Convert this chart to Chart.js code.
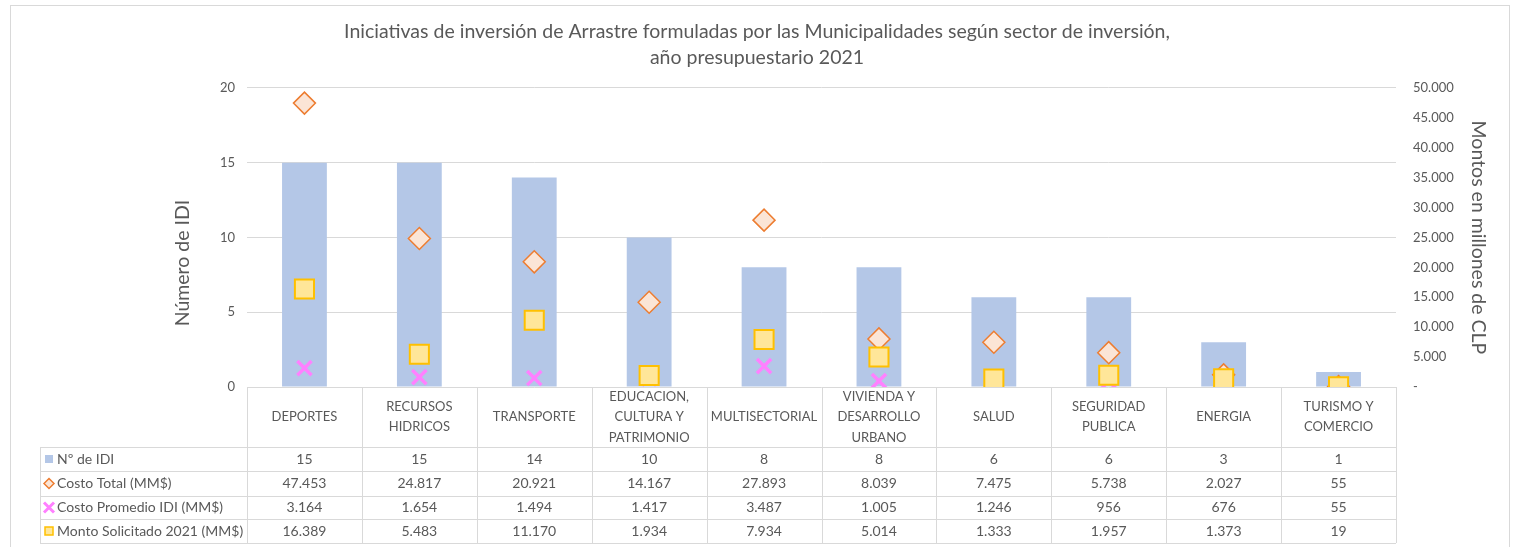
<!DOCTYPE html>
<html><head><meta charset="utf-8">
<script src="https://cdn.jsdelivr.net/npm/chart.js@4"></script>
<style>html,body{margin:0;padding:0;background:#fff}#wrap{width:1514px;height:547px;position:relative}</style>
</head><body><div id="wrap"><canvas id="c"></canvas></div>
<script>
const categories = [["DEPORTES"],["RECURSOS","HIDRICOS"],["TRANSPORTE"],["EDUCACION,","CULTURA Y","PATRIMONIO"],["MULTISECTORIAL"],["VIVIENDA Y","DESARROLLO","URBANO"],["SALUD"],["SEGURIDAD","PUBLICA"],["ENERGIA"],["TURISMO Y","COMERCIO"]];
const numeroIDI = [15,15,14,10,8,8,6,6,3,1];
const costoTotal = [47453,24817,20921,14167,27893,8039,7475,5738,2027,55];
const costoPromedio = [3164,1654,1494,1417,3487,1005,1246,956,676,55];
const montoSolicitado = [16389,5483,11170,1934,7934,5014,1333,1957,1373,19];
const seriesNames = ["Nº de IDI","Costo Total (MM$)","Costo Promedio IDI (MM$)","Monto Solicitado 2021 (MM$)"];
const titleLines = ["Iniciativas de inversión de Arrastre formuladas por las Municipalidades según sector de inversión,","año presupuestario 2021"];
const leftAxisTitle = "Número de IDI";
const rightAxisTitle = "Montos en millones de CLP";

const FONT = "Lato, 'Liberation Sans', sans-serif";
const TXT = '#595959';
const GRID = '#D9D9D9';
const fmt = n => n === 0 ? '-' : String(n).replace(/\B(?=(\d{3})+(?!\d))/g, '.');

const C_BAR = '#B4C7E7', C_DIA_B = '#ED7D31', C_DIA_F = '#FBE5D6', C_X = '#FF80FF', C_SQ_B = '#FFC000', C_SQ_F = '#FFE699';

const framePlugin = {
  id: 'frame',
  beforeDraw(chart) {
    const ctx = chart.ctx;
    ctx.save();
    ctx.fillStyle = '#fff';
    ctx.fillRect(0, 0, chart.width, chart.height);
    ctx.strokeStyle = GRID;
    ctx.lineWidth = 1;
    ctx.strokeRect(10.5, 5.5, 1499, 600);
    ctx.restore();
  }
};

const tablePlugin = {
  id: 'table',
  afterDraw(chart) {
    const ctx = chart.ctx, xs = chart.scales.x, a = chart.chartArea;
    const n = categories.length;
    const colW = (a.right - a.left) / n;
    const top = a.bottom, headBot = top + 60;
    const rowYs = [headBot, headBot + 24, headBot + 49, headBot + 72, headBot + 96];
    const tableLeft = 40;
    ctx.save();
    // left axis title
    ctx.fillStyle = TXT;
    ctx.font = "19.5px " + FONT;
    ctx.textAlign = 'center';
    ctx.textBaseline = 'middle';
    ctx.save();
    ctx.translate(183, 263);
    ctx.rotate(-Math.PI / 2);
    ctx.fillText(leftAxisTitle, 0, 0);
    ctx.restore();

    ctx.strokeStyle = GRID;
    ctx.lineWidth = 1;
    ctx.beginPath();
    rowYs.forEach(y => { ctx.moveTo(tableLeft, Math.round(y) + 0.5); ctx.lineTo(a.right, Math.round(y) + 0.5); });
    for (let i = 0; i <= n; i++) {
      const x = Math.round(a.left + i * colW) + 0.5;
      ctx.moveTo(x, top); ctx.lineTo(x, rowYs[4]);
    }
    ctx.moveTo(tableLeft + 0.5, headBot); ctx.lineTo(tableLeft + 0.5, rowYs[4]);
    ctx.stroke();

    ctx.fillStyle = TXT;
    ctx.font = "13px " + FONT;
    categories.forEach((lines, i) => {
      const cx = xs.getPixelForValue(i);
      const cy = (top + headBot) / 2;
      const lh = 20.5;
      lines.forEach((t, k) => {
        ctx.fillText(t, cx, cy + (k - (lines.length - 1) / 2) * lh);
      });
    });
    ctx.font = "14px " + FONT;
    const data = [numeroIDI, costoTotal, costoPromedio, montoSolicitado];
    data.forEach((arr, r) => {
      const cy = (rowYs[r] + rowYs[r + 1]) / 2;
      arr.forEach((v, i) => {
        ctx.fillText(fmt(v), xs.getPixelForValue(i), cy);
      });
    });
    ctx.textAlign = 'left';
    seriesNames.forEach((name, r) => {
      const cy = (rowYs[r] + rowYs[r + 1]) / 2;
      const ix = 49;
      if (r === 0) {
        ctx.fillStyle = C_BAR; ctx.fillRect(ix - 4, cy - 4, 8, 8);
      } else if (r === 1) {
        ctx.beginPath();
        ctx.moveTo(ix - 5, cy); ctx.lineTo(ix, cy - 5); ctx.lineTo(ix + 5, cy); ctx.lineTo(ix, cy + 5); ctx.closePath();
        ctx.fillStyle = C_DIA_F; ctx.fill(); ctx.strokeStyle = C_DIA_B; ctx.lineWidth = 1.5; ctx.stroke();
      } else if (r === 2) {
        ctx.beginPath();
        ctx.moveTo(ix - 5, cy - 5); ctx.lineTo(ix + 5, cy + 5);
        ctx.moveTo(ix + 5, cy - 5); ctx.lineTo(ix - 5, cy + 5);
        ctx.strokeStyle = C_X; ctx.lineWidth = 3; ctx.stroke();
      } else {
        ctx.fillStyle = C_SQ_F; ctx.fillRect(ix - 4, cy - 4, 8, 8);
        ctx.strokeStyle = C_SQ_B; ctx.lineWidth = 1.5; ctx.strokeRect(ix - 4, cy - 4, 8, 8);
      }
      ctx.fillStyle = TXT;
      ctx.fillText(name, 57, cy);
    });
    ctx.restore();
  }
};

new Chart(document.getElementById('c'), {
  data: {
    labels: categories.map(c => c.join(' ')),
    datasets: [
      { type: 'line', label: seriesNames[3], data: montoSolicitado, yAxisID: 'y1', showLine: false,
        pointStyle: 'rect', pointRadius: 13.5, pointBackgroundColor: C_SQ_F, pointBorderColor: C_SQ_B, pointBorderWidth: 2, order: 1 },
      { type: 'line', label: seriesNames[2], data: costoPromedio, yAxisID: 'y1', showLine: false,
        pointStyle: 'crossRot', pointRadius: 10, pointBorderColor: C_X, pointBorderWidth: 3.5, order: 2 },
      { type: 'line', label: seriesNames[1], data: costoTotal, yAxisID: 'y1', showLine: false,
        pointStyle: 'rectRot', pointRadius: 11, pointBackgroundColor: C_DIA_F, pointBorderColor: C_DIA_B, pointBorderWidth: 1.5, order: 3 },
      { type: 'bar', label: seriesNames[0], data: numeroIDI, yAxisID: 'y', backgroundColor: C_BAR,
        barPercentage: 0.39, categoryPercentage: 1, order: 4 }
    ]
  },
  options: {
    responsive: true,
    maintainAspectRatio: false,
    animation: false,
    layout: { padding: { left: 0, right: 0, top: 0, bottom: 160 } },
    plugins: {
      legend: { display: false },
      tooltip: { enabled: false },
      title: {
        display: true, text: titleLines, color: TXT,
        font: { family: FONT, size: 19.5, weight: 'normal', lineHeight: 1.33 },
        padding: { top: 19, bottom: 17 }
      }
    },
    scales: {
      x: { display: false, offset: true },
      y: {
        position: 'left', min: 0, max: 20,
        ticks: { stepSize: 5, color: TXT, font: { family: FONT, size: 13 }, padding: 12 },
        grid: { color: GRID, drawTicks: false },
        border: { display: false },
        title: { display: false },
        afterFit(s) { s.width = 247; }
      },
      y1: {
        position: 'right', min: 0, max: 50000,
        ticks: { stepSize: 5000, color: TXT, font: { family: FONT, size: 13 }, padding: 17, callback: v => fmt(v) },
        grid: { display: false, drawTicks: false },
        border: { display: false },
        title: { display: true, text: rightAxisTitle, color: TXT, font: { family: FONT, size: 19.5 }, padding: { top: 24, bottom: 4 } },
        afterFit(s) { s.width = 118; }
      }
    }
  },
  plugins: [framePlugin, tablePlugin]
});
</script></body></html>
